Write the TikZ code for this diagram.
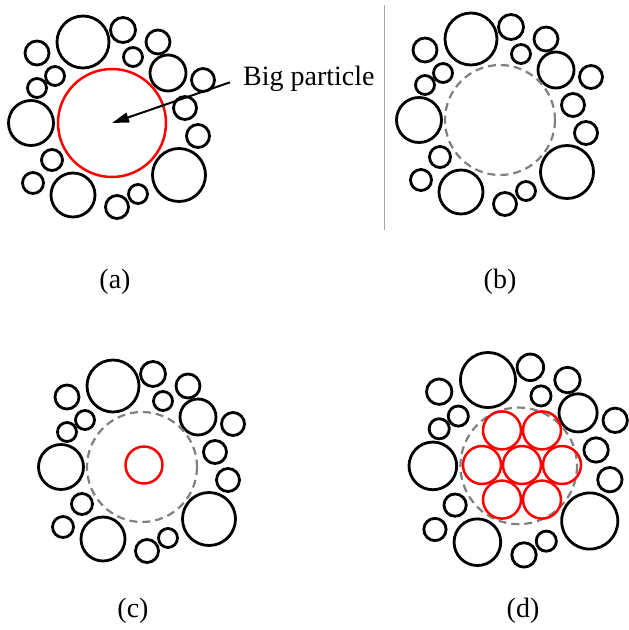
\documentclass[tikz,border=0pt]{standalone}
\usepackage{fontspec}
\setmainfont{Liberation Serif}
\usetikzlibrary{arrows.meta,positioning}
\newcommand{\grainlist}{83/42/26, 123/30/12.5, 158/42/12, 133/57/9.5, 37/53/12, 55/76/9.5, 37/88/9.5, 31/123/22.5, 168/73/18, 203/80/11.5, 185/108/11.5, 198/136/11.5, 179/175/26.5, 52/160/10.5, 33/183/10.5, 73/195/22, 117/207/11.5, 138/194/9.5}

\begin{document}
\begin{tikzpicture}[
    x=1pt, y=-1pt,
    grain/.style={draw=black, line width=2.8pt},
    bigp/.style={draw=red, line width=2.5pt},
    void/.style={draw=gray, dash pattern=on 8pt off 5pt, line width=2.2pt},
    lab/.style={font=\fontsize{28}{30}\selectfont, inner sep=0pt},
    arrow/.style={-{Triangle[length=17pt,width=10pt]}, line width=2pt}
]
\useasboundingbox (0,0) rectangle (629,630);
\draw[gray!70, line width=1pt] (384,5) -- (384,230);

% (a)
\foreach \x/\y/\r in \grainlist
  \draw[grain] (\x,\y) circle (\r);
\draw[bigp] (112,123) circle (54);
\coordinate (tipA) at (112,123);
\node[lab, anchor=base west] (bigtxt) at (243,85) {Big particle};
\draw[arrow] ([xshift=-13pt,yshift=-4pt]bigtxt.west) -- (tipA);

% (b)
\begin{scope}[shift={(388,-3)}]
\foreach \x/\y/\r in \grainlist
  \draw[grain] (\x,\y) circle (\r);
\draw[void] (112,123) circle (55);
\end{scope}

% (c)
\begin{scope}[shift={(30,344)}]
\foreach \x/\y/\r in \grainlist
  \draw[grain] (\x,\y) circle (\r);
\draw[void] (112,123) circle (55);
\draw[bigp] (114,121) circle (18.5);
\end{scope}

% (d)
\begin{scope}[shift={(400,335.5)}, scale=1.06]
\foreach \x/\y/\r in \grainlist
  \draw[grain] (\x,\y) circle (\r);
\draw[void] (112,123) circle (55);
\end{scope}
\foreach \dx/\dy in {0/0, -40/0, 40/0, -20/-34.6, 20/-34.6, -20/34.6, 20/34.6}
  \draw[bigp] (522+\dx,465+\dy) circle (19);

\node[lab] (capa) at (115,282) {(a)};
\node[lab] (capb) at (500,282) {(b)};
\node[lab] (capc) at (133,611) {(c)};
\node[lab] (capd) at (523,611) {(d)};
\end{tikzpicture}
\end{document}
